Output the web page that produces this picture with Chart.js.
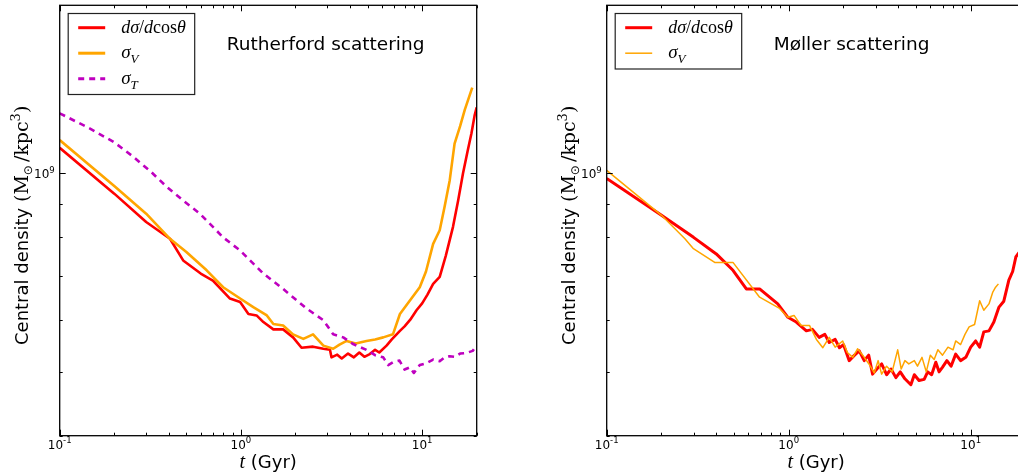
<!DOCTYPE html>
<html>
<head>
<meta charset="utf-8">
<script src="https://cdn.jsdelivr.net/npm/chart.js@4.4.0/dist/chart.umd.min.js"></script>
<style>
  html, body { margin: 0; padding: 0; background: #fff; width: 1018px; height: 473px; overflow: hidden; }
  #ruth { position: absolute; left: 0; top: 0; }
  #moll { position: absolute; left: 509px; top: 0; }
</style>
</head>
<body>
<canvas id="ruth" width="509" height="473"></canvas>
<canvas id="moll" width="530" height="473"></canvas>
<script>
// central density in units of 1e8 Msun/kpc^3, time in Gyr

// Rutherford panel
var ruthDiffT   = [0.1, 0.2, 0.3, 0.406, 0.48, 0.6, 0.7, 0.87, 0.99, 1.1, 1.22, 1.33, 1.51, 1.71, 1.94, 2.16, 2.5, 2.85, 3.1, 3.16, 3.4, 3.6, 3.9, 4.2, 4.5, 4.8, 5.14, 5.5, 5.8, 6.36, 6.8, 7.54, 8.0, 8.6, 9.31, 10.0, 10.7, 11.5, 12.5, 13.5, 14.8, 15.8, 16.8, 17.8, 18.7, 19.5, 20];
var ruthDiffRho = [10.94, 9.32, 8.44, 7.96, 7.38, 7.05, 6.88, 6.46, 6.38, 6.12, 6.09, 5.95, 5.80, 5.80, 5.64, 5.44, 5.46, 5.42, 5.40, 5.26, 5.31, 5.24, 5.33, 5.26, 5.35, 5.27, 5.32, 5.40, 5.35, 5.48, 5.60, 5.77, 5.86, 6.00, 6.20, 6.35, 6.55, 6.80, 6.97, 7.50, 8.30, 9.10, 10.0, 10.8, 11.5, 12.27, 12.6];

var ruthVT   = [0.1, 0.2, 0.3, 0.406, 0.5, 0.647, 0.798, 0.99, 1.17, 1.39, 1.51, 1.71, 1.94, 2.21, 2.5, 2.85, 3.23, 3.5, 3.83, 4.3, 4.93, 5.5, 6.1, 6.9, 7.54, 8.5, 9.7, 10.5, 11.5, 12.5, 13.3, 14.2, 15.1, 16.2, 17.2, 18.9];
var ruthVRho = [11.24, 9.57, 8.69, 7.96, 7.60, 7.13, 6.72, 6.46, 6.27, 6.09, 5.91, 5.88, 5.70, 5.61, 5.70, 5.48, 5.42, 5.50, 5.57, 5.52, 5.57, 5.60, 5.64, 5.70, 6.12, 6.40, 6.72, 7.10, 7.82, 8.20, 8.90, 9.77, 11.1, 11.8, 12.5, 13.5];

var ruthTT   = [0.1, 0.147, 0.2, 0.255, 0.32, 0.389, 0.48, 0.594, 0.798, 0.99, 1.33, 1.71, 2.3, 2.85, 3.23, 3.67, 4.16, 4.93, 5.5, 6.1, 6.5, 6.9, 7.5, 8.0, 8.55, 9.0, 9.7, 10.5, 11.5, 12.5, 13.3, 14.2, 15.2, 16.2, 17.5, 19.0, 20];
var ruthTRho = [12.34, 11.70, 11.15, 10.60, 10.05, 9.55, 9.10, 8.69, 8.0, 7.64, 7.05, 6.68, 6.24, 5.99, 5.70, 5.64, 5.51, 5.40, 5.30, 5.26, 5.12, 5.17, 5.20, 5.04, 5.08, 4.98, 5.12, 5.15, 5.22, 5.19, 5.26, 5.28, 5.27, 5.33, 5.34, 5.38, 5.48];

// Moller panel
var mollDiffT   = [0.1, 0.2, 0.3, 0.4, 0.494, 0.585, 0.692, 0.871, 0.99, 1.1, 1.25, 1.35, 1.47, 1.58, 1.67, 1.8, 1.9, 2.0, 2.15, 2.3, 2.44, 2.6, 2.75, 2.89, 3.05, 3.24, 3.45, 3.65, 3.88, 4.1, 4.35, 4.69, 4.9, 5.2, 5.55, 5.8, 6.1, 6.43, 6.7, 6.99, 7.4, 7.8, 8.27, 8.8, 9.4, 10.0, 10.65, 11.2, 11.8, 12.6, 13.4, 14.3, 15.2, 16.2, 17.0, 17.7, 18.5, 19.3, 20];
var mollDiffRho = [9.83, 8.64, 8.00, 7.55, 7.13, 6.68, 6.68, 6.34, 6.05, 5.95, 5.77, 5.80, 5.64, 5.70, 5.54, 5.60, 5.44, 5.50, 5.20, 5.30, 5.38, 5.20, 5.30, 4.96, 5.05, 5.14, 4.95, 5.05, 4.90, 5.00, 4.88, 4.78, 4.95, 4.85, 4.87, 5.00, 4.95, 5.17, 5.00, 5.08, 5.20, 5.10, 5.32, 5.20, 5.26, 5.45, 5.57, 5.45, 5.75, 5.77, 5.95, 6.27, 6.40, 6.89, 7.10, 7.47, 7.60, 7.90, 8.00];

var mollVT   = [0.1, 0.2, 0.269, 0.298, 0.392, 0.494, 0.692, 0.891, 0.99, 1.07, 1.17, 1.3, 1.42, 1.54, 1.67, 1.8, 1.98, 2.1, 2.25, 2.39, 2.55, 2.76, 2.95, 3.1, 3.24, 3.45, 3.7, 3.97, 4.15, 4.35, 4.57, 4.9, 5.1, 5.4, 5.7, 6.0, 6.3, 6.6, 7.0, 7.5, 8.0, 8.27, 8.8, 9.3, 9.8, 10.5, 11.2, 11.8, 12.6, 13.2, 13.7, 14.2];
var mollVRho = [10.11, 8.64, 7.96, 7.70, 7.33, 7.33, 6.49, 6.24, 6.05, 6.09, 5.88, 5.88, 5.60, 5.44, 5.64, 5.45, 5.57, 5.35, 5.26, 5.42, 5.30, 5.14, 4.98, 5.20, 4.96, 5.10, 5.00, 5.40, 5.05, 5.20, 5.14, 5.20, 5.10, 5.26, 5.00, 5.30, 5.22, 5.40, 5.30, 5.45, 5.40, 5.57, 5.50, 5.70, 5.85, 5.90, 6.41, 6.20, 6.34, 6.60, 6.72, 6.80];

var xTicks = [0.1, 0.2, 0.3, 0.4, 0.5, 0.6, 0.7, 0.8, 0.9, 1, 2, 3, 4, 5, 6, 7, 8, 9, 10, 20];
var yTicks = [4e8, 5e8, 6e8, 7e8, 8e8, 9e8, 1e9];
var xRange = [0.1, 20];
var yRange = [4e8, 1.8e9];

var SANS = "'DejaVu Sans', sans-serif";
var SERIF = "'Liberation Serif', serif";
var MATHSERIF = "'DejaVu Serif', serif";

function pts(ts, rhos) {
  return ts.map(function(t, i) { return { x: t, y: rhos[i] * 1e8 }; });
}

function isMajor(v) {
  var l = Math.log10(v);
  return Math.abs(l - Math.round(l)) < 1e-9;
}

// draw a row of text runs [text, font, dy]
function drawRuns(ctx, x, y, runs, align) {
  var w = 0;
  runs.forEach(function(r) { ctx.font = r[1]; w += ctx.measureText(r[0]).width + (r[3] || 0); });
  var cx = align === 'center' ? x - w / 2 : (align === 'right' ? x - w : x);
  runs.forEach(function(r) {
    ctx.font = r[1];
    ctx.fillText(r[0], cx, y + (r[2] || 0));
    cx += ctx.measureText(r[0]).width + (r[3] || 0);
  });
  return w;
}

function powLabel(exp) {
  return [['10', '12px ' + SANS, 0], [exp, '8.5px ' + SANS, -5.5]];
}

var labelRuns = {
  diff: [['d\u03c3', 'italic 18px ' + SERIF], ['/', '18px ' + SERIF], ['d', 'italic 18px ' + SERIF], ['cos', '18px ' + SERIF], ['\u03b8', 'italic 18px ' + SERIF]],
  v: [['\u03c3', 'italic 19px ' + SERIF], ['V', 'italic 13px ' + SERIF, 5]],
  t: [['\u03c3', 'italic 19px ' + SERIF], ['T', 'italic 13px ' + SERIF, 5]]
};

var decorPlugin = {
  id: 'decor',
  afterDraw: function(chart) {
    var p = chart.options.plugins.decor;
    var ctx = chart.ctx, a = chart.chartArea, xs = chart.scales.x, ys = chart.scales.y;
    ctx.save();
    ctx.fillStyle = '#000';
    ctx.strokeStyle = '#000';
    ctx.textBaseline = 'alphabetic';

    // frame
    ctx.lineWidth = 1.3;
    ctx.strokeRect(a.left, a.top, a.right - a.left, a.bottom - a.top);

    // inward ticks on all four sides
    ctx.lineWidth = 1;
    ctx.beginPath();
    xTicks.forEach(function(v) {
      var px = Math.round(xs.getPixelForValue(v)) + 0.5;
      var len = isMajor(v) ? 6 : 3;
      ctx.moveTo(px, a.bottom); ctx.lineTo(px, a.bottom - len);
      ctx.moveTo(px, a.top); ctx.lineTo(px, a.top + len);
    });
    yTicks.forEach(function(v) {
      var py = Math.round(ys.getPixelForValue(v)) + 0.5;
      var len = isMajor(v) ? 6 : 3;
      ctx.moveTo(a.left, py); ctx.lineTo(a.left + len, py);
      ctx.moveTo(a.right, py); ctx.lineTo(a.right - len, py);
    });
    ctx.stroke();

    // tick labels
    xTicks.forEach(function(v) {
      if (!isMajor(v)) return;
      var e = Math.round(Math.log10(v));
      drawRuns(ctx, xs.getPixelForValue(v), a.bottom + 13, powLabel(e < 0 ? '-' + (-e) : '' + e), 'center');
    });
    yTicks.forEach(function(v) {
      if (!isMajor(v)) return;
      var e = Math.round(Math.log10(v));
      drawRuns(ctx, a.left - 5, ys.getPixelForValue(v) + 5, powLabel('' + e), 'right');
    });

    // x axis title
    drawRuns(ctx, (a.left + a.right) / 2, 468, [['t', 'italic 20px ' + SERIF], [' (Gyr)', '18px ' + SANS]], 'center');

    // y axis title, rotated
    ctx.save();
    ctx.translate(a.left - 32, 345);
    ctx.rotate(-Math.PI / 2);
    var w1 = drawRuns(ctx, 0, 0, [['Central density ', '18px ' + SANS]], 'left');
    drawRuns(ctx, w1, 0, [
      ['(M', '19px ' + MATHSERIF], ['\u2299', '12px ' + SANS, 4, 3],
      ['/kpc', '19px ' + MATHSERIF], ['3', '13px ' + MATHSERIF, -8], [')', '19px ' + MATHSERIF]
    ], 'left');
    ctx.restore();

    // panel annotation
    ctx.font = '18.5px ' + SANS;
    ctx.textAlign = 'left';
    ctx.fillText(p.title, a.left + 167, 50);

    // legend
    var bx = a.left + 8.5, by = 13.5, bw = 126.5, bh = 25.5 * p.entries.length + 4.5;
    ctx.fillStyle = '#fff';
    ctx.fillRect(bx, by, bw, bh);
    ctx.strokeStyle = '#222';
    ctx.lineWidth = 1.2;
    ctx.strokeRect(bx, by, bw, bh);
    p.entries.forEach(function(en, i) {
      var ly = 27.7 + 25.5 * i;
      ctx.strokeStyle = en.color;
      ctx.lineWidth = en.width;
      ctx.setLineDash(en.dash || []);
      ctx.beginPath();
      ctx.moveTo(a.left + 18.5, ly);
      ctx.lineTo(a.left + 45.5, ly);
      ctx.stroke();
      ctx.setLineDash([]);
      ctx.fillStyle = '#000';
      drawRuns(ctx, a.left + 61.5, ly + 5, labelRuns[en.key], 'left');
    });
    ctx.restore();
  }
};

function makeChart(id, datasets, padding, decor) {
  return new Chart(document.getElementById(id), {
    type: 'line',
    data: { datasets: datasets },
    options: {
      responsive: false,
      animation: false,
      layout: { padding: padding },
      elements: { point: { radius: 0 }, line: { tension: 0, borderJoinStyle: 'round' } },
      scales: {
        x: { type: 'logarithmic', min: xRange[0], max: xRange[1], display: false },
        y: { type: 'logarithmic', min: yRange[0], max: yRange[1], display: false }
      },
      plugins: { legend: { display: false }, tooltip: { enabled: false }, decor: decor }
    },
    plugins: [decorPlugin]
  });
}

makeChart('ruth', [
  { data: pts(ruthDiffT, ruthDiffRho), borderColor: '#ff0000', borderWidth: 2.6, order: 2 },
  { data: pts(ruthVT, ruthVRho), borderColor: '#ffa500', borderWidth: 2.6, order: 1 },
  { data: pts(ruthTT, ruthTRho), borderColor: '#bf00bf', borderWidth: 2.6, borderDash: [6, 5], order: 0 }
], { left: 59.7, right: 32.3, top: 5.3, bottom: 37.3 }, {
  title: 'Rutherford scattering',
  entries: [
    { key: 'diff', color: '#ff0000', width: 3 },
    { key: 'v', color: '#ffa500', width: 3 },
    { key: 't', color: '#bf00bf', width: 3, dash: [6, 5] }
  ]
});

makeChart('moll', [
  { data: pts(mollDiffT, mollDiffRho), borderColor: '#ff0000', borderWidth: 3, order: 1 },
  { data: pts(mollVT, mollVRho), borderColor: '#ffa500', borderWidth: 1.5, order: 0 }
], { left: 97.7, right: 13.5, top: 5.3, bottom: 37.3 }, {
  title: 'M\u00f8ller scattering',
  entries: [
    { key: 'diff', color: '#ff0000', width: 3 },
    { key: 'v', color: '#ffa500', width: 1.5 }
  ]
});
</script>
</body>
</html>
